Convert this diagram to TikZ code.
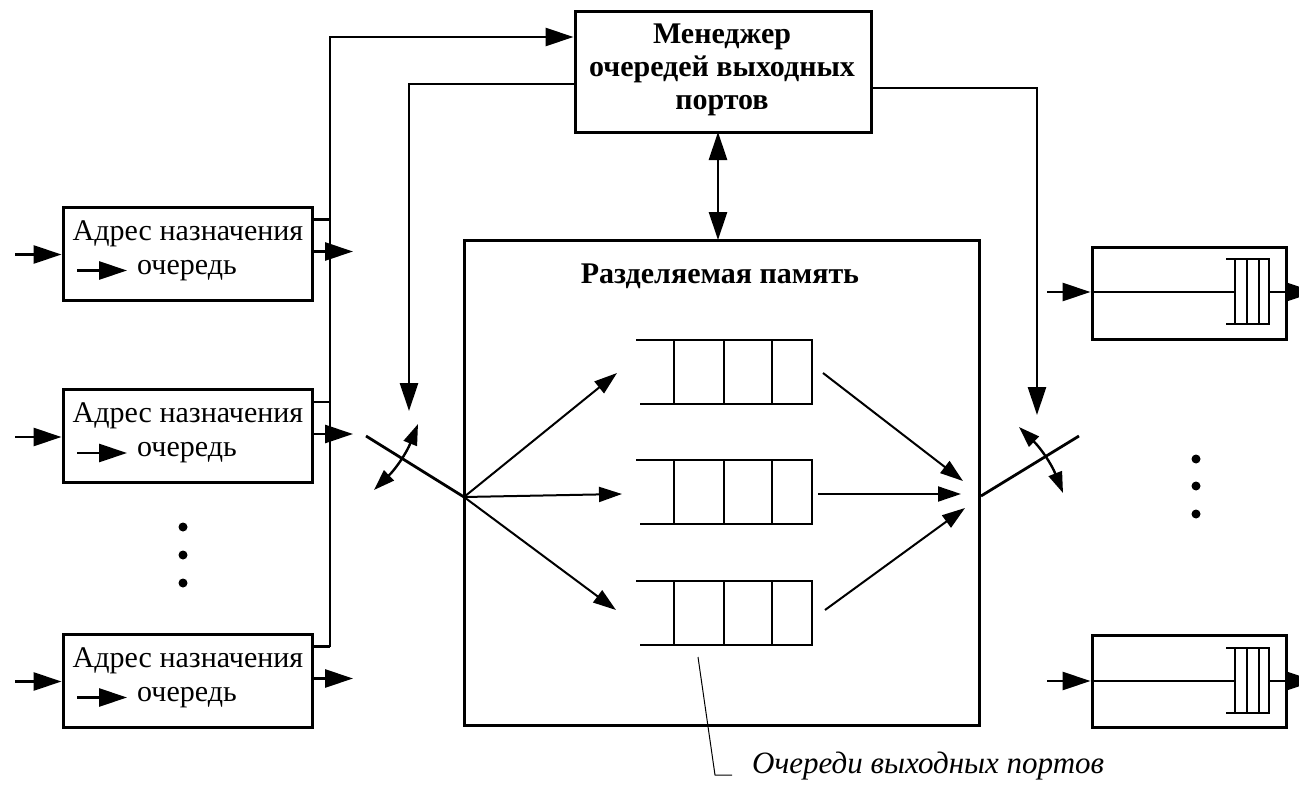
\documentclass[tikz,border=0pt]{standalone}
\usepackage{fontspec}
\setmainfont{Liberation Serif}
\usetikzlibrary{arrows.meta}
\tikzset{
  ln/.style={line width=2.8pt},
  thin queue/.style={line width=2pt},
  arr/.style={ln,-{Triangle[length=28pt,width=18pt]}},
  sarr/.style={line width=2pt,-{Triangle[length=23pt,width=15pt]}},
  darr/.style={line width=2.4pt,{Triangle[length=21pt,width=14pt]}-{Triangle[length=21pt,width=14pt]}},
  box/.style={draw,line width=3pt,inner sep=0pt},
  txt/.style={font=\fontsize{30}{34}\selectfont,inner sep=0pt},
  btxt/.style={font=\fontsize{30}{33}\selectfont\bfseries,inner sep=0pt,align=center},
  itxt/.style={font=\fontsize{31}{36}\selectfont\itshape,inner sep=0pt},
  dot/.style={circle,fill,inner sep=0pt,minimum size=9pt}
}
\begin{document}
\begin{tikzpicture}[x=1pt,y=-1pt]
\useasboundingbox (0,0) rectangle (1299,792);
\clip (0,0) rectangle (1299,792);
% manager
\node[box,minimum width=296pt,minimum height=120pt] (mgr) at (723,72) {};
\node[btxt] (mgrt) at (722,70) {Менеджер\\очередей выходных\\портов};
% shared memory
\node[box,minimum width=515pt,minimum height=485pt] (mem) at (721.5,482.5) {};
\node[btxt] (memt) at (720,276) {Разделяемая память};
% left boxes
\foreach \n/\y in {1/253.5,2/436,3/680.5}{
  \node[box,minimum width=249pt,minimum height=93pt] (a\n) at (187.5,\y) {};
  \node[txt] (a\n t1) at (188,\y-20) {Адрес назначения};
  \node[txt,anchor=west] (a\n t2) at (137,\y+17) {очередь};
  \coordinate (a\n s) at (77,\y+17);
  \coordinate (a\n e) at (127,\y+17);
  \draw[arr] (a\n s) -- (a\n e);
  \coordinate (a\n in) at (15,\y+1);
  \draw[arr] (a\n in) -- (a\n.west |- a\n in);
  \coordinate (a\n o) at (353,\y-2);
  \draw[arr] (a\n.east |- a\n o) -- (a\n o);
  \coordinate (a\n u) at (330,\y-34);
  \draw[ln] (a\n.east |- a\n u) -- (a\n u);
}
% bus
\coordinate (bustop) at (330,37);
\draw[arr] (a3u) -- (bustop) -- (mgr.west |- bustop);
% left dots
\node[dot] (ld1) at (183,527) {};
\node[dot] (ld2) at (183,555) {};
\node[dot] (ld3) at (183,583) {};
% switches
\coordinate (ls1) at (366,436);
\coordinate (ls2) at (464,497);
\draw[ln] (ls1) -- (ls2);
\coordinate (lsa) at (418,424);
\coordinate (lsb) at (374,490);
\draw[darr] (lsa) to[bend left=12] (lsb);
\coordinate (rs1) at (981,496);
\coordinate (rs2) at (1079,436);
\draw[ln] (rs1) -- (rs2);
\coordinate (rsa) at (1019,427);
\coordinate (rsb) at (1063,493);
\draw[darr] (rsa) to[bend left=12] (rsb);
% manager connections
\coordinate (ml) at (409,84);
\coordinate (mlt) at (409,411);
\draw[arr] (mgr.west |- ml) -- (ml) -- (mlt);
\coordinate (mr) at (1037,88);
\coordinate (mrt) at (1037,415);
\draw[arr] (mgr.east |- mr) -- (mr) -- (mrt);
\coordinate (mm1) at (718,132);
\coordinate (mm2) at (718,240);
\draw[ln,{Triangle[length=28pt,width=18pt]}-{Triangle[length=28pt,width=18pt]}] (mm1) -- (mm2);
% queues
\foreach \n/\y in {1/340,2/460,3/581}{
  \coordinate (q\n tl) at (636,\y);
  \coordinate (q\n bl) at (640,\y+64);
  \coordinate (q\n tr) at (812,\y);
  \coordinate (q\n br) at (812,\y+64);
  \draw[thin queue] (q\n tl) -- (q\n tr) -- (q\n br) -- (q\n bl);
  \foreach \x in {674,724,772}{\draw[thin queue] (\x,\y) -- (\x,\y+64);}
}
% fan arrows
\coordinate (f1) at (617,373);
\coordinate (f2) at (622,494);
\coordinate (f3) at (616,610);
\draw[sarr] (ls2) -- (f1);
\draw[sarr] (ls2) -- (f2);
\draw[sarr] (ls2) -- (f3);
\coordinate (o1s) at (823,373); \coordinate (o1e) at (963,481);
\coordinate (o2s) at (818,494); \coordinate (o2e) at (961,494);
\coordinate (o3s) at (825,610); \coordinate (o3e) at (965,508);
\draw[sarr] (o1s) -- (o1e);
\draw[sarr] (o2s) -- (o2e);
\draw[sarr] (o3s) -- (o3e);
% right boxes
\foreach \n/\y/\c in {1/293/292,2/681.5/681}{
  \node[box,minimum width=194pt,minimum height=92pt] (b\n) at (1189,\y) {};
  \coordinate (b\n in) at (1047,\c);
  \draw[arr] (b\n in) -- (b\n.west |- b\n in);
  \coordinate (b\n q) at (1235,\c);
  \draw[ln] (b\n.west |- b\n in) -- (b\n q);
  \draw[line width=2pt] (1226,\c-33) -- (1269,\c-33) -- (1269,\c+32) -- (1226,\c+32);
  \foreach \x in {1235,1247,1259}{\draw[line width=2pt] (\x,\c-33) -- (\x,\c+32);}
  \coordinate (b\n qo) at (1269,\c);
  \coordinate (b\n out) at (1315,\c);
  \draw[arr] (b\n qo) -- (b\n out);
}
% right dots
\node[dot] (rd1) at (1196,459) {};
\node[dot] (rd2) at (1196,486) {};
\node[dot] (rd3) at (1196,514) {};
% label
\coordinate (lab1) at (698,657);
\coordinate (lab2) at (715,775);
\coordinate (lab3) at (732,775);
\draw[line width=1pt] (lab1) -- (lab2) -- (lab3);
\node[itxt,anchor=west] (lab) at (752,766) {Очереди выходных портов};
\end{tikzpicture}
\end{document}
